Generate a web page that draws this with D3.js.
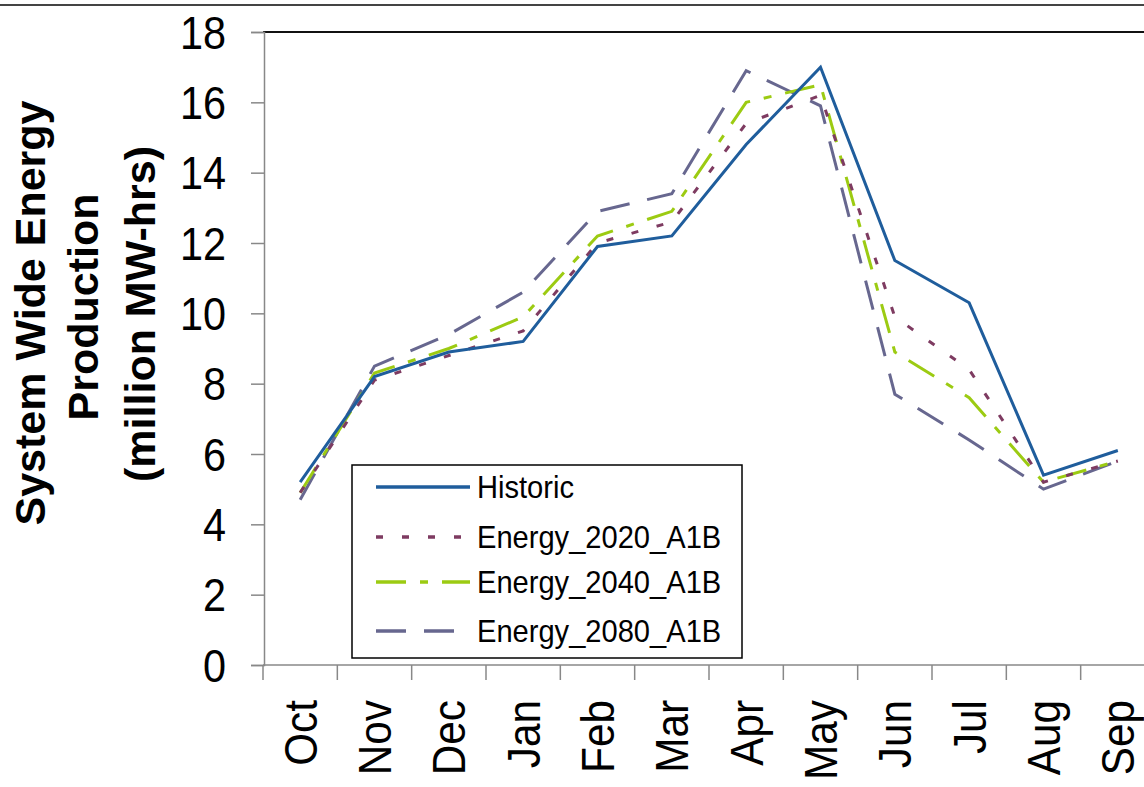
<!DOCTYPE html>
<html>
<head>
<meta charset="utf-8">
<script src="https://cdn.jsdelivr.net/npm/d3@7"></script>
<style>
  html, body { margin: 0; padding: 0; background: #fff; }
  svg { display: block; font-family: "Liberation Sans", Arial, sans-serif; }
</style>
</head>
<body>
<svg id="chart" width="1144" height="787"></svg>
<script>
const months = ["Oct","Nov","Dec","Jan","Feb","Mar","Apr","May","Jun","Jul","Aug","Sep"];
const historic = [5.2, 8.2, 8.9, 9.2, 11.9, 12.2, 14.8, 17.0, 11.5, 10.3, 5.4, 6.1];
const energy2020 = [4.9, 8.1, 8.8, 9.5, 12.0, 12.6, 15.4, 16.2, 9.9, 8.4, 5.2, 5.8];
const energy2040 = [4.9, 8.3, 9.0, 9.9, 12.2, 12.9, 16.0, 16.5, 8.9, 7.6, 5.2, 5.8];
const energy2080 = [4.7, 8.5, 9.4, 10.6, 12.9, 13.4, 16.9, 15.9, 7.7, 6.4, 5.0, 5.8];
const seriesNames = ["Historic", "Energy_2020_A1B", "Energy_2040_A1B", "Energy_2080_A1B"];
const yTicks = [0, 2, 4, 6, 8, 10, 12, 14, 16, 18];

const series = [
  { name: seriesNames[0], values: historic,   color: "#1f5d9c", dash: null,          width: 3 },
  { name: seriesNames[1], values: energy2020, color: "#7e3b61", dash: "7,19",        width: 3 },
  { name: seriesNames[2], values: energy2040, color: "#9ccb12", dash: "30,14,8,14",  width: 3 },
  { name: seriesNames[3], values: energy2080, color: "#67678f", dash: "30,18",       width: 3 }
];

const svg = d3.select("#chart");
const X0 = 263, X1 = 1155, Y0 = 665, Y1 = 32;

const xBand = d3.scaleBand().domain(months).range([X0, X1]).padding(0);
const x = d3.scalePoint().domain(months).range([X0, X1]).padding(0.5);
const y = d3.scaleLinear().domain([0, 18]).range([Y0, Y1]);

// top frame line of image
svg.append("line").attr("x1", 0).attr("x2", 1144).attr("y1", 5).attr("y2", 5)
  .attr("stroke", "#444").attr("stroke-width", 2);

// plot top border
svg.append("line").attr("x1", X0).attr("x2", 1144).attr("y1", y(18)).attr("y2", y(18))
  .attr("stroke", "#111").attr("stroke-width", 2);

// Y axis
const yAxis = d3.axisLeft(y).tickValues(yTicks).tickSize(13).tickFormat("");
const yg = svg.append("g").attr("transform", `translate(${X0 + 1},0)`).call(yAxis);
yg.select(".domain").attr("stroke", "#888").attr("stroke-width", 1.5);
yg.selectAll(".tick line").attr("stroke", "#888").attr("stroke-width", 1.5);

svg.append("g").selectAll("text").data(yTicks).join("text")
  .attr("transform", d => `translate(226,${y(d)}) scale(0.9,1)`)
  .attr("text-anchor", "end")
  .attr("dy", "0.36em")
  .attr("font-size", 46)
  .attr("fill", "#000")
  .text(d => d);

// X axis (ticks at category boundaries)
const xg = svg.append("g").attr("transform", `translate(0,${Y0})`);
xg.append("line").attr("x1", X0).attr("x2", X1).attr("y1", 0).attr("y2", 0)
  .attr("stroke", "#888").attr("stroke-width", 1.5);
xg.selectAll("line.tick").data(months).join("line").attr("class", "tick")
  .attr("x1", d => xBand(d)).attr("x2", d => xBand(d))
  .attr("y1", 0).attr("y2", 15)
  .attr("stroke", "#888").attr("stroke-width", 1.5);

svg.append("g").selectAll("text").data(months).join("text")
  .attr("transform", d => `translate(${x(d)},700) rotate(-90) scale(0.9,0.97)`)
  .attr("text-anchor", "end")
  .attr("dy", "0.36em")
  .attr("font-size", 47)
  .attr("fill", "#000")
  .text(d => d);

// Y axis title
const titleLines = [
  { t: "System Wide Energy", cx: 30, cy: 313 },
  { t: "Production", cx: 83, cy: 307 },
  { t: "(million MW-hrs)", cx: 140, cy: 314 }
];
svg.append("g").selectAll("text").data(titleLines).join("text")
  .attr("transform", d => `translate(${d.cx},${d.cy}) rotate(-90)`)
  .attr("text-anchor", "middle")
  .attr("dy", "0.36em")
  .attr("font-size", 43)
  .attr("font-weight", "bold")
  .attr("fill", "#000")
  .text(d => d.t);

// lines
const line = d3.line().x((d, i) => x(months[i])).y(d => y(d));
svg.append("g").selectAll("path").data(series.slice().reverse()).join("path")
  .attr("d", d => line(d.values))
  .attr("fill", "none")
  .attr("stroke", d => d.color)
  .attr("stroke-width", d => d.width)
  .attr("stroke-dasharray", d => d.dash)
  .attr("stroke-linejoin", "miter");

// legend
const lg = svg.append("g");
lg.append("rect").attr("x", 352).attr("y", 465).attr("width", 390).attr("height", 193)
  .attr("fill", "#fff").attr("stroke", "#000").attr("stroke-width", 1.5);
const legY = [487, 537, 582, 631];
const items = lg.selectAll("g.item").data(series).join("g").attr("class", "item")
  .attr("transform", (d, i) => `translate(0,${legY[i]})`);
items.append("line").attr("x1", 376).attr("x2", 470).attr("y1", 0).attr("y2", 0)
  .attr("stroke", d => d.color).attr("stroke-width", 3.5)
  .attr("stroke-dasharray", d => d.dash);
items.append("text").attr("x", 477).attr("y", 0).attr("dy", "0.36em")
  .attr("font-size", 30).attr("fill", "#000")
  .attr("transform", "translate(477,0) scale(0.97,1.05) translate(-477,0)")
  .text(d => d.name);
</script>
</body>
</html>
